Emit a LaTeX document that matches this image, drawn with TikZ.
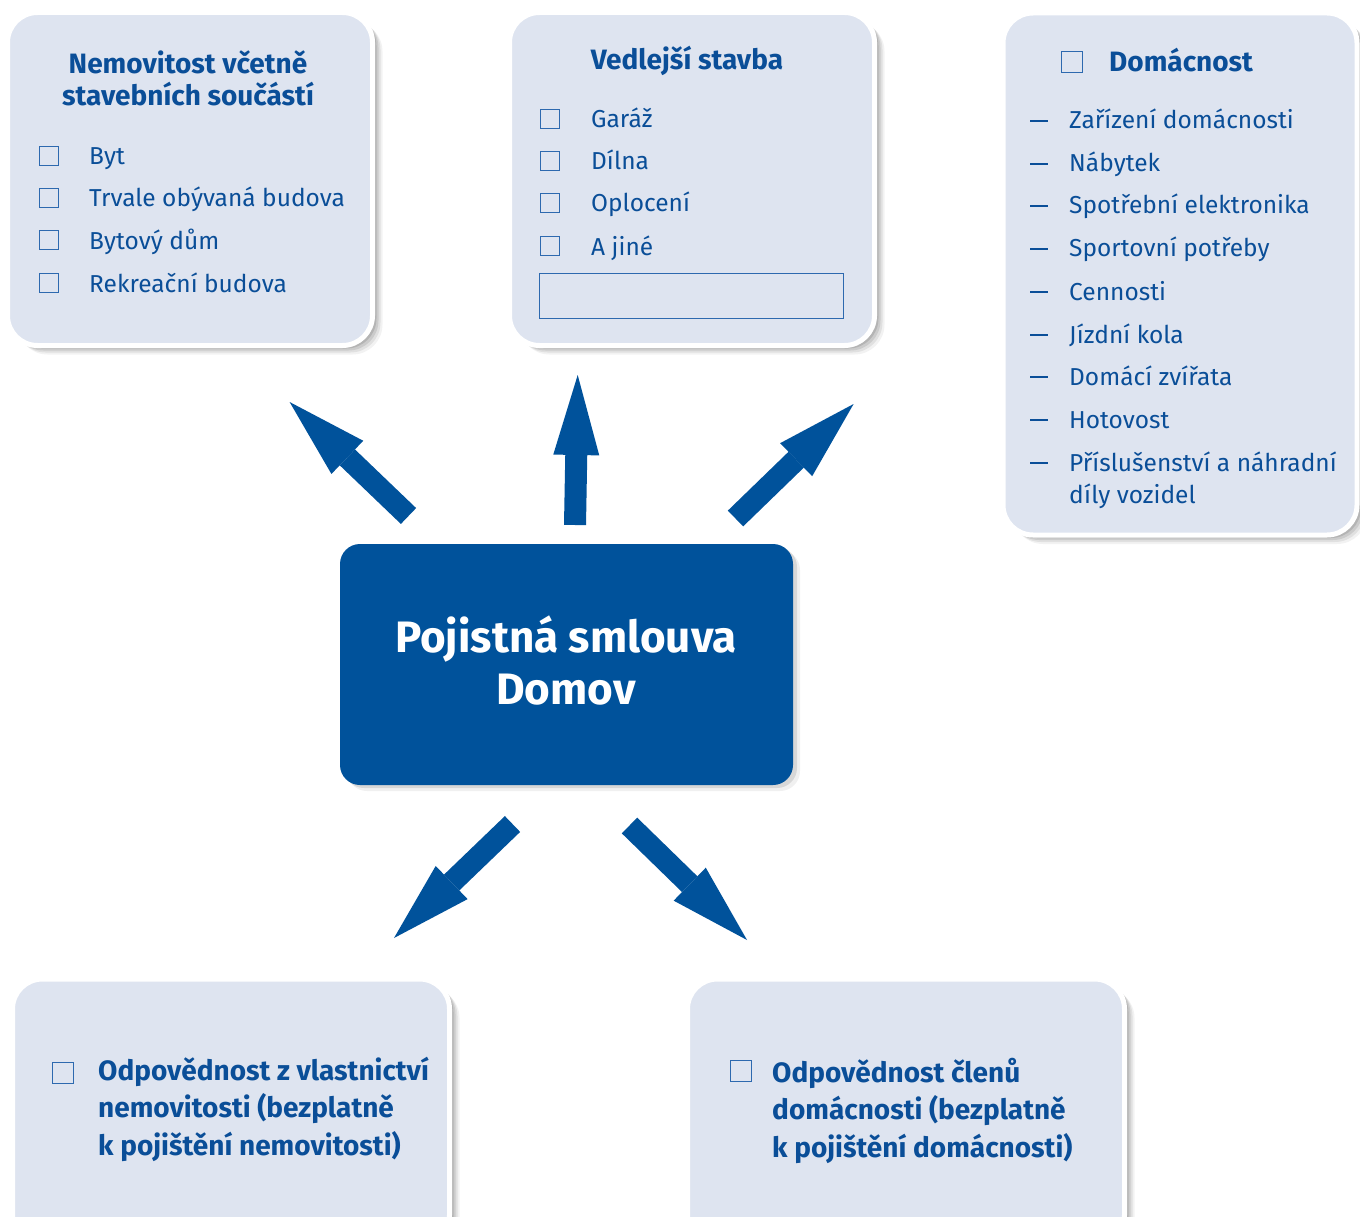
\documentclass[tikz,border=0pt]{standalone}
\usepackage{fontspec}
\setmainfont{Fira Sans}
\usetikzlibrary{arrows.meta,shadows}
\definecolor{mainblue}{RGB}{0,82,155}
\definecolor{textblue}{RGB}{10,78,152}
\definecolor{boxfill}{RGB}{222,228,240}
\definecolor{tickblue}{RGB}{45,105,175}

\begin{document}
\begin{tikzpicture}[
    x=1pt, y=-1pt,
    panel/.style={draw=white, line width=5pt, fill=boxfill, rounded corners=30pt, inner sep=0pt,
        drop shadow={shadow xshift=10pt, shadow yshift=-9pt, opacity=.05, fill=black},
        drop shadow={shadow xshift=8pt, shadow yshift=-7pt, opacity=.07, fill=black},
        drop shadow={shadow xshift=6pt, shadow yshift=-5pt, opacity=.09, fill=black},
        drop shadow={shadow xshift=4pt, shadow yshift=-3pt, opacity=.11, fill=black}},
    mainbox/.style={fill=mainblue, rounded corners=20pt, inner sep=0pt,
        drop shadow={shadow xshift=7pt, shadow yshift=-6pt, opacity=.06, fill=black},
        drop shadow={shadow xshift=4pt, shadow yshift=-3pt, opacity=.1, fill=black}},
    heading/.style={text=textblue, font=\fontsize{28}{32}\selectfont\bfseries, align=center, inner sep=0pt, anchor=base},
    bighead/.style={text=textblue, font=\fontsize{28}{37.5}\selectfont\bfseries, align=left, inner sep=0pt, anchor=base west},
    item/.style={text=textblue, font=\fontsize{24.5}{32}\selectfont, align=left, inner sep=0pt, anchor=base west},
    tickbox/.style={draw=tickblue, line width=1.2pt, minimum size=19pt, inner sep=0pt, anchor=south west},
    dashmark/.style={fill=textblue, minimum width=18pt, minimum height=2pt, inner sep=0pt, anchor=west},
    bigarrow/.style={draw=mainblue, line width=22pt, -{Triangle[length=80pt, width=46pt, line width=0pt]}},
]
\useasboundingbox (0,0) rectangle (1360,1217);
\fill[white] (0,0) rectangle (1360,1217);

% Boxes
\node[panel, minimum width=365pt, minimum height=333pt] (house) at (190,179) {};
\node[panel, minimum width=365pt, minimum height=333pt] (annex) at (692,179) {};
\node[panel, minimum width=354pt, minimum height=522pt] (home) at (1180,274) {};
\node[panel, minimum width=437pt, minimum height=266pt] (liab1) at (231,1112) {};
\node[panel, minimum width=437pt, minimum height=266pt] (liab2) at (906,1112) {};
\node[mainbox, minimum width=453pt, minimum height=241pt] (policy) at (566.5,664.5) {};

% Nemovitost
\node[heading] (houseT) at (188,106) {Nemovitost včetně\\stavebních součástí};
\node[tickbox] (hb1) at (38.5,166) {};
\node[item] (hi1) at (89,165) {Byt};
\node[tickbox] (hb2) at (38.5,208) {};
\node[item] (hi2) at (89,207) {Trvale obývaná budova};
\node[tickbox] (hb3) at (38.5,250) {};
\node[item] (hi3) at (89,249) {Bytový dům};
\node[tickbox] (hb4) at (38.5,293) {};
\node[item] (hi4) at (89,292) {Rekreační budova};

% Vedlejsi stavba
\node[heading] (annexT) at (687,70) {Vedlejší stavba};
\node[tickbox] (ab1) at (540,129) {};
\node[item] (ai1) at (591,128) {Garáž};
\node[tickbox] (ab2) at (540,171) {};
\node[item] (ai2) at (591,170) {Dílna};
\node[tickbox] (ab3) at (540,213) {};
\node[item] (ai3) at (591,212) {Oplocení};
\node[tickbox] (ab4) at (540,256) {};
\node[item] (ai4) at (591,255) {A jiné};
\node[draw=tickblue, line width=1pt, minimum width=304pt, minimum height=45pt, inner sep=0pt] (field) at (691,295.5) {};

% Domacnost
\node[tickbox, minimum size=21pt] (homeB) at (1061,73) {};
\node[item, font=\fontsize{28}{32}\selectfont\bfseries] (homeT) at (1109,72) {Domácnost};
\node[dashmark] (d1) at (1030,121) {};
\node[item] (hm1) at (1069,129) {Zařízení domácnosti};
\node[dashmark] (d2) at (1030,164) {};
\node[item] (hm2) at (1069,172) {Nábytek};
\node[dashmark] (d3) at (1030,206) {};
\node[item] (hm3) at (1069,214) {Spotřební elektronika};
\node[dashmark] (d4) at (1030,249) {};
\node[item] (hm4) at (1069,257) {Sportovní potřeby};
\node[dashmark] (d5) at (1030,292) {};
\node[item] (hm5) at (1069,300) {Cennosti};
\node[dashmark] (d6) at (1030,335) {};
\node[item] (hm6) at (1069,343) {Jízdní kola};
\node[dashmark] (d7) at (1030,377) {};
\node[item] (hm7) at (1069,385) {Domácí zvířata};
\node[dashmark] (d8) at (1030,420) {};
\node[item] (hm8) at (1069,428) {Hotovost};
\node[dashmark] (d9) at (1030,463) {};
\node[item] (hm9) at (1069,503) {Příslušenství a náhradní\\díly vozidel};

% Odpovednost
\node[tickbox, minimum size=21pt] (lb1) at (52,1084) {};
\node[bighead] (lt1) at (98,1155) {Odpovědnost z vlastnictví\\nemovitosti (bezplatně\\k pojištění nemovitosti)};
\node[tickbox, minimum size=21pt] (lb2) at (729.5,1082) {};
\node[bighead] (lt2) at (772,1157) {Odpovědnost členů\\domácnosti (bezplatně\\k pojištění domácnosti)};

% Smlouva
\node[text=white, font=\fontsize{44}{52}\selectfont\bfseries, align=center, inner sep=0pt, anchor=base] (policyT) at (566,704) {Pojistná smlouva\\Domov};

% Arrows
\coordinate (s1) at (408.5,516);
\coordinate (e1) at (289.6,402);
\coordinate (s2) at (575,525);
\coordinate (e2) at (577.7,375);
\coordinate (s3) at (735.5,518.5);
\coordinate (e3) at (853.6,404);
\coordinate (s4) at (512.5,824);
\coordinate (e4) at (394,938);
\coordinate (s5) at (629.5,825.5);
\coordinate (e5) at (747,940);
\draw[bigarrow] (s1) -- (e1);
\draw[bigarrow] (s2) -- (e2);
\draw[bigarrow] (s3) -- (e3);
\draw[bigarrow] (s4) -- (e4);
\draw[bigarrow] (s5) -- (e5);

\end{tikzpicture}
\end{document}
